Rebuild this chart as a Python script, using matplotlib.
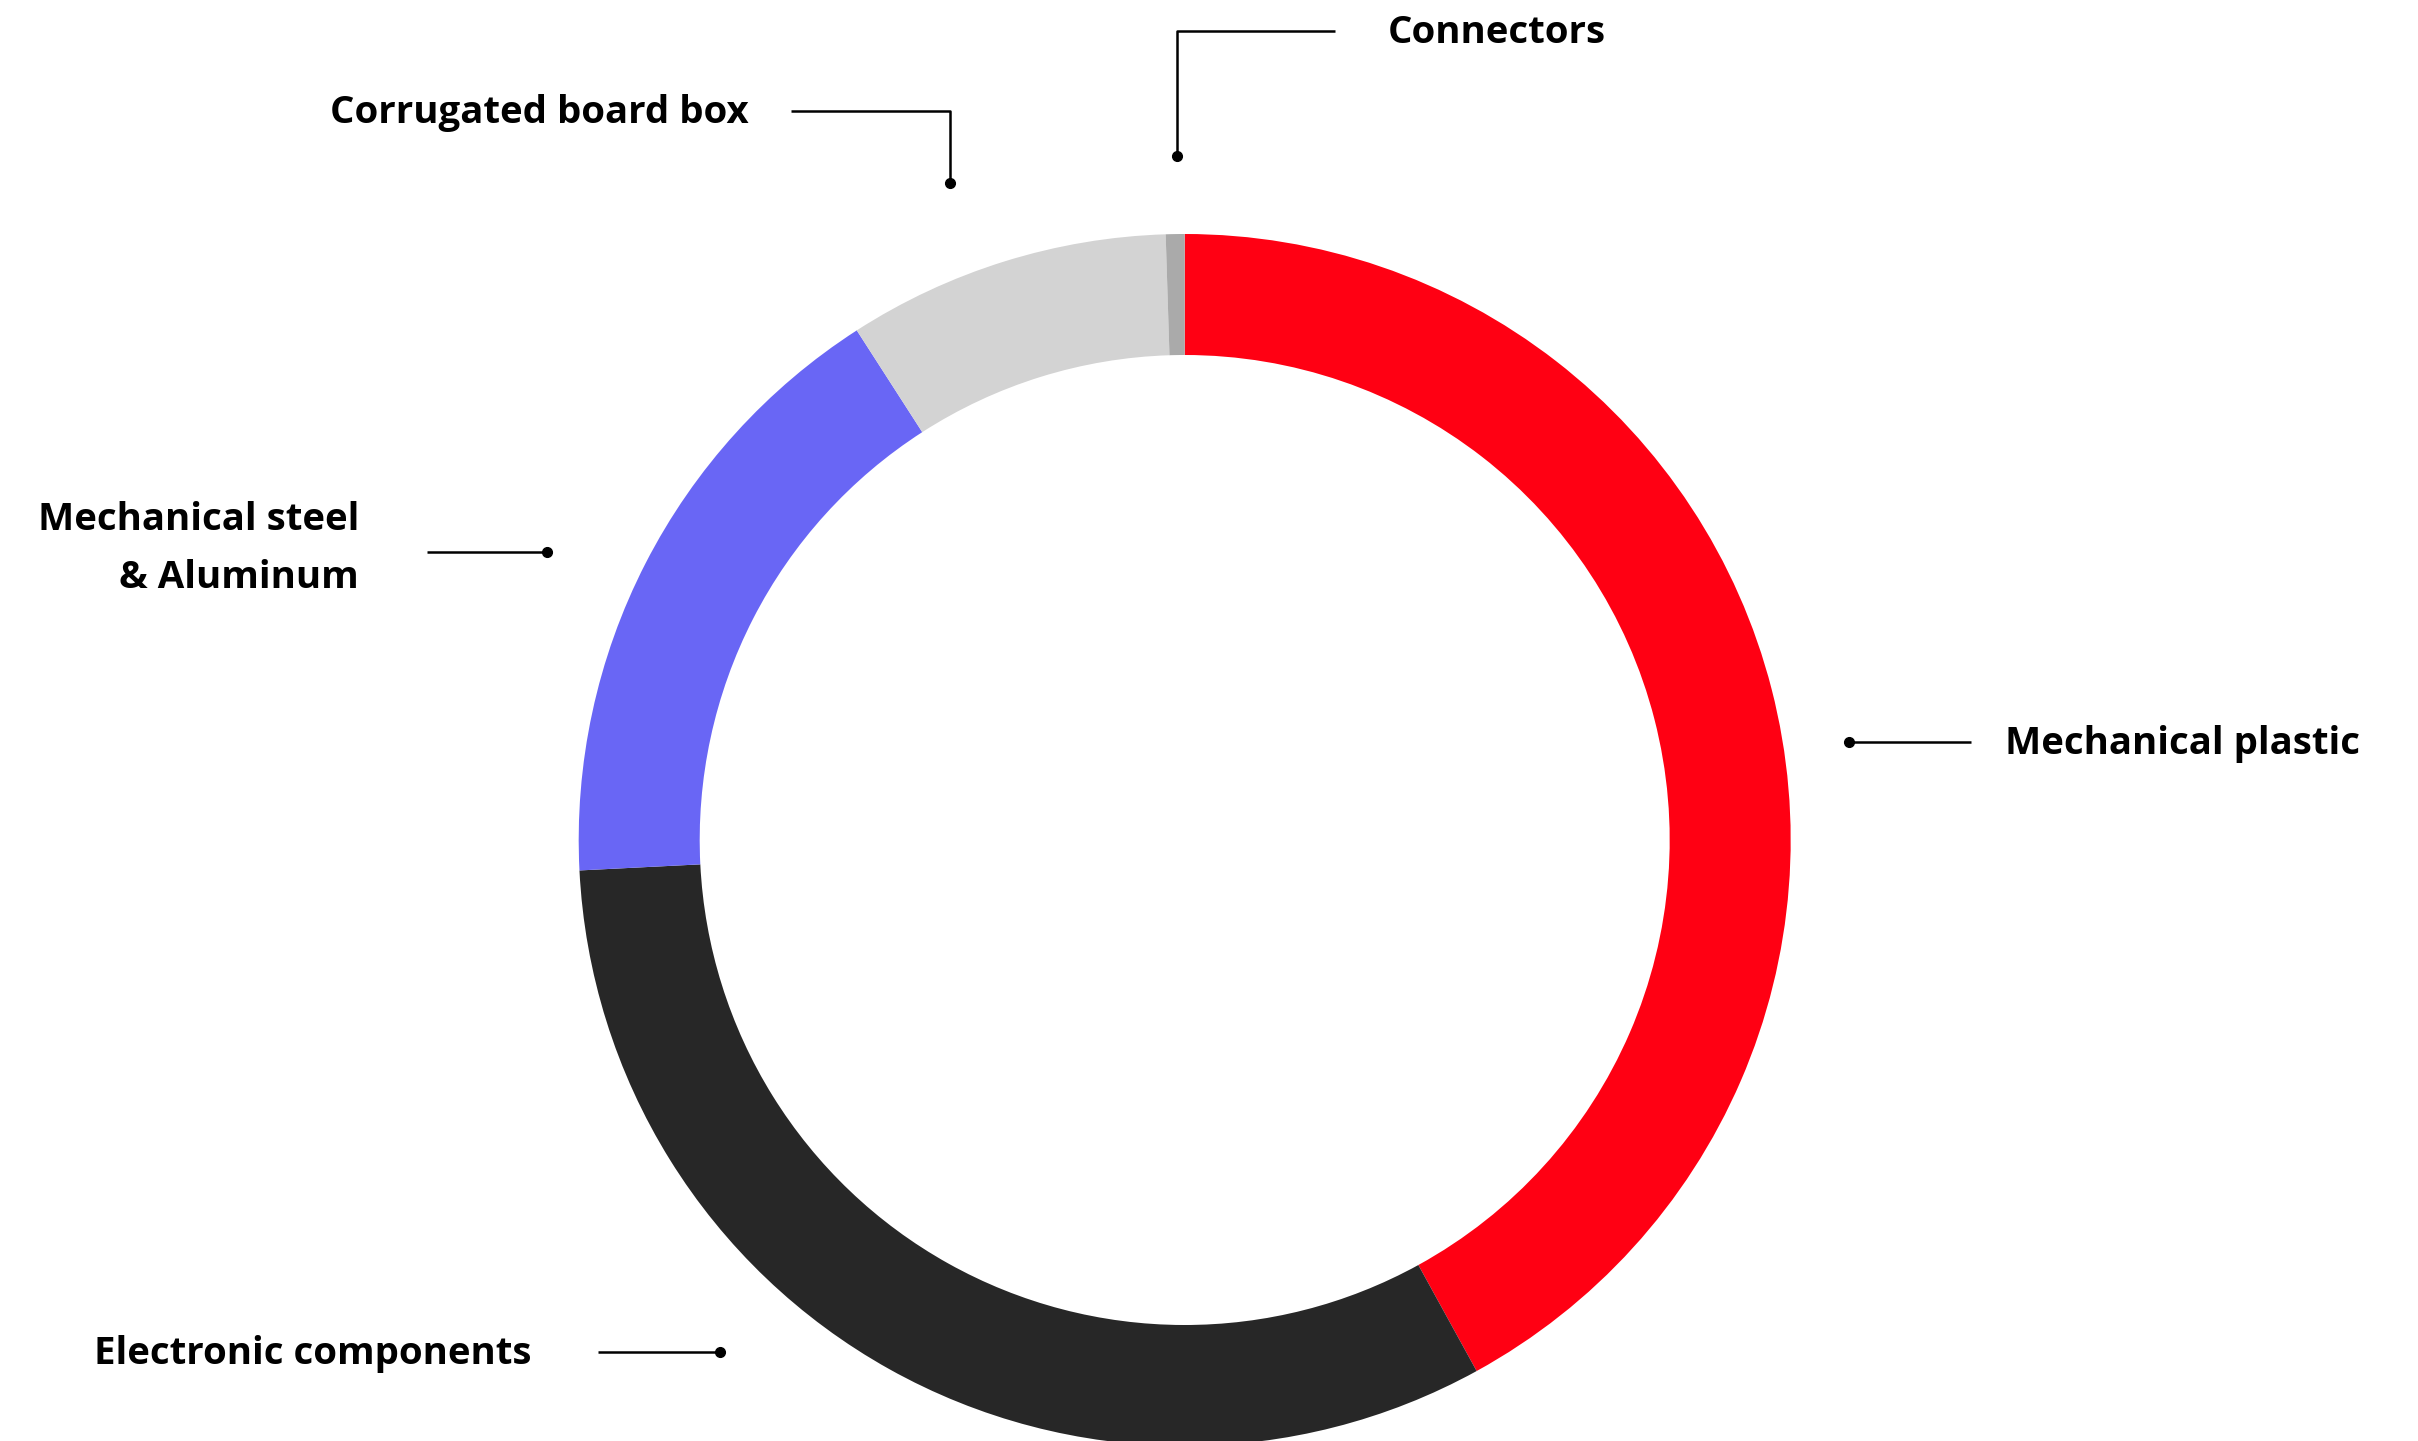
import numpy as np
import matplotlib.pyplot as plt

W, H = 2418, 1441

# share of each material, clockwise from 12 o'clock
materials = ['Mechanical plastic', 'Electronic components',
             'Mechanical steel\n& Aluminum', 'Corrugated board box', 'Connectors']
shares = [42.0, 32.2, 16.7, 8.6, 0.5]
colors = ['#ff0013', '#272727', '#6966f5', '#d3d3d3', '#aaaaaa']

# label anchors in pixel space (top-left origin): dot -> elbow -> line end, then text
leaders = {
    'Mechanical plastic': dict(path=[(1849, 742), (1971, 742)], text=(2005, 742), ha='left'),
    'Electronic components': dict(path=[(720, 1352), (598, 1352)], text=(532, 1352), ha='right'),
    'Mechanical steel\n& Aluminum': dict(path=[(547, 552), (427, 552)], text=(359, 547), ha='right'),
    'Corrugated board box': dict(path=[(950, 183), (950, 111), (791, 111)], text=(749, 111), ha='right'),
    'Connectors': dict(path=[(1177, 156), (1177, 31), (1335, 31)], text=(1388, 31), ha='left'),
}

def flip(pts):
    return [(x, H - y) for x, y in pts]

fig = plt.figure(figsize=(W / 100, H / 100), dpi=100)
ax = fig.add_axes([0, 0, 1, 1])

ax.pie(shares, colors=colors, startangle=90, counterclock=False,
       center=(1184.7, H - 840), radius=606,
       wedgeprops=dict(width=121, linewidth=0))

for name, ld in leaders.items():
    pts = flip(ld['path'])
    xs, ys = zip(*pts)
    ax.plot(xs, ys, color='black', lw=1.8, solid_capstyle='butt')
    ax.plot(xs[0], ys[0], 'o', color='black', ms=7)
    tx, ty = ld['text']
    ax.text(tx, H - ty - 2, name, ha=ld['ha'], va='center', fontsize=27.6,
            fontweight='bold', family='Open Sans', linespacing=1.72,
            multialignment='right' if ld['ha'] == 'right' else 'left')

ax.set_xlim(0, W)
ax.set_ylim(0, H)
ax.set_aspect('equal')
ax.axis('off')

fig.savefig('out.png', dpi=100, facecolor='white')
